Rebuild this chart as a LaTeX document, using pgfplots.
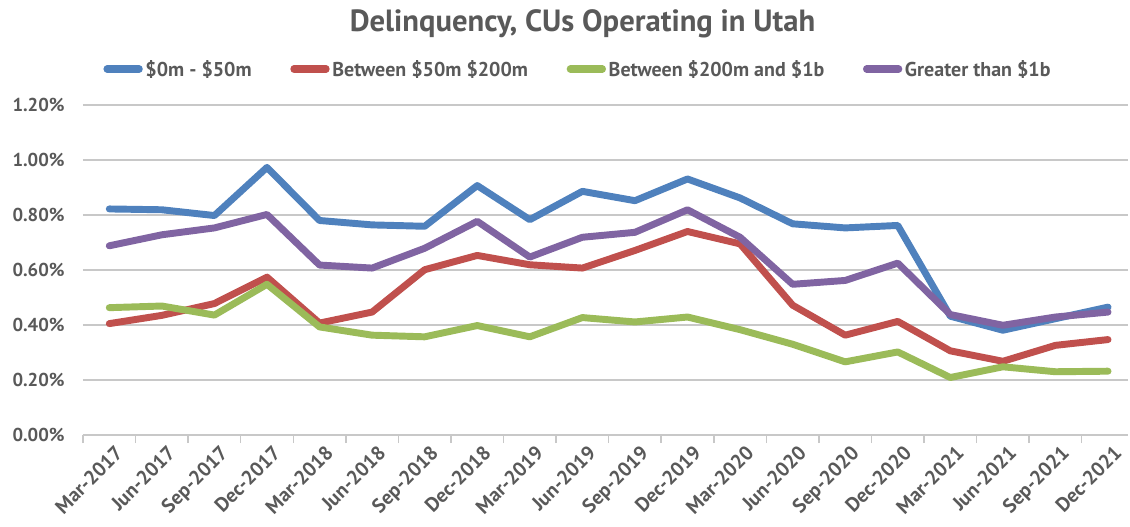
\documentclass[border=0pt]{standalone}
\usepackage{fontspec}
\setmainfont{PT Sans}
\usepackage{pgfplots}
\usepackage{pgfplotstable}
\pgfplotsset{compat=1.18}
\definecolor{cblue}{HTML}{4F81BD}
\definecolor{cred}{HTML}{C0504D}
\definecolor{cgreen}{HTML}{9BBB59}
\definecolor{cpurple}{HTML}{8064A2}
\definecolor{tgray}{HTML}{595959}
\definecolor{ggray}{HTML}{C8C8C8}
\pgfplotstableread{
x  a      b      c      d
0  0.822  0.405  0.463  0.688
1  0.819  0.435  0.469  0.728
2  0.798  0.478  0.436  0.753
3  0.973  0.574  0.548  0.802
4  0.780  0.407  0.393  0.618
5  0.764  0.447  0.363  0.607
6  0.759  0.601  0.357  0.679
7  0.907  0.653  0.398  0.777
8  0.783  0.619  0.357  0.647
9  0.886  0.607  0.427  0.719
10 0.852  0.671  0.411  0.737
11 0.931  0.740  0.429  0.819
12 0.862  0.695  0.383  0.719
13 0.768  0.472  0.330  0.548
14 0.753  0.363  0.266  0.562
15 0.762  0.413  0.302  0.625
16 0.432  0.306  0.209  0.438
17 0.381  0.268  0.248  0.399
18 0.423  0.326  0.230  0.429
19 0.465  0.347  0.232  0.447
}\datatable
\begin{document}
\begin{tikzpicture}
\useasboundingbox (-62.25pt,-69pt) rectangle (785.25pt,326.25pt);
\begin{axis}[
  at={(0,0)}, anchor=south west,
  scale only axis,
  width=783.75pt, height=247.5pt,
  xmin=-0.5, xmax=19.38,
  ymin=0, ymax=1.2,
  axis x line*=bottom,
  axis y line*=left,
  y axis line style={draw=none},
  x axis line style={ggray, line width=1.1pt, -},
  ytick={0,0.2,0.4,0.6,0.8,1.0,1.2},
  yticklabels={0.00\%,0.20\%,0.40\%,0.60\%,0.80\%,1.00\%,1.20\%},
  major y tick style={draw=none},
  ymajorgrids,
  grid style={ggray, line width=1.1pt},
  xtick={0,...,19},
  xticklabels={Mar-2017,Jun-2017,Sep-2017,Dec-2017,Mar-2018,Jun-2018,Sep-2018,Dec-2018,Mar-2019,Jun-2019,Sep-2019,Dec-2019,Mar-2020,Jun-2020,Sep-2020,Dec-2020,Mar-2021,Jun-2021,Sep-2021,Dec-2021},
  major x tick style={draw=none},
  minor xtick={-0.5,0.5,...,18.5},
  minor x tick style={ggray, line width=1.1pt},
  minor tick length=6pt,
  tick align=outside,
  x tick label style={rotate=45, anchor=north east, font=\bfseries\fontsize{15}{17}\selectfont, text=tgray, xshift=4pt, yshift=-1pt},
  y tick label style={font=\bfseries\fontsize{14}{16}\selectfont, text=tgray, xshift=-6pt},
  title={Delinquency, CUs Operating in Utah},
  title style={at={(axis description cs:0.478,1.222)}, anchor=center, font=\bfseries\fontsize{23}{27}\selectfont, text=tgray},
  legend style={at={(axis description cs:0.474,1.109)}, anchor=center, draw=none, fill=none,
    legend columns=4, font=\bfseries\fontsize{15}{18}\selectfont, text=tgray,
    /tikz/every even column/.append style={column sep=27pt}},
  legend image code/.code={\draw[#1, line width=5.5pt, line cap=round] (0pt,0pt) -- (24pt,0pt);},
  every axis plot/.append style={line width=5.2pt, line join=round, line cap=round, mark=none},
  clip=false,
]
\addplot[cblue] table[x=x,y=a] {\datatable};
\addplot[cred] table[x=x,y=b] {\datatable};
\addplot[cgreen] table[x=x,y=c] {\datatable};
\addplot[cpurple] table[x=x,y=d] {\datatable};
\legend{\$0m - \$50m, Between \$50m \$200m, Between \$200m and \$1b, Greater than \$1b}
\end{axis}
\end{tikzpicture}
\end{document}
